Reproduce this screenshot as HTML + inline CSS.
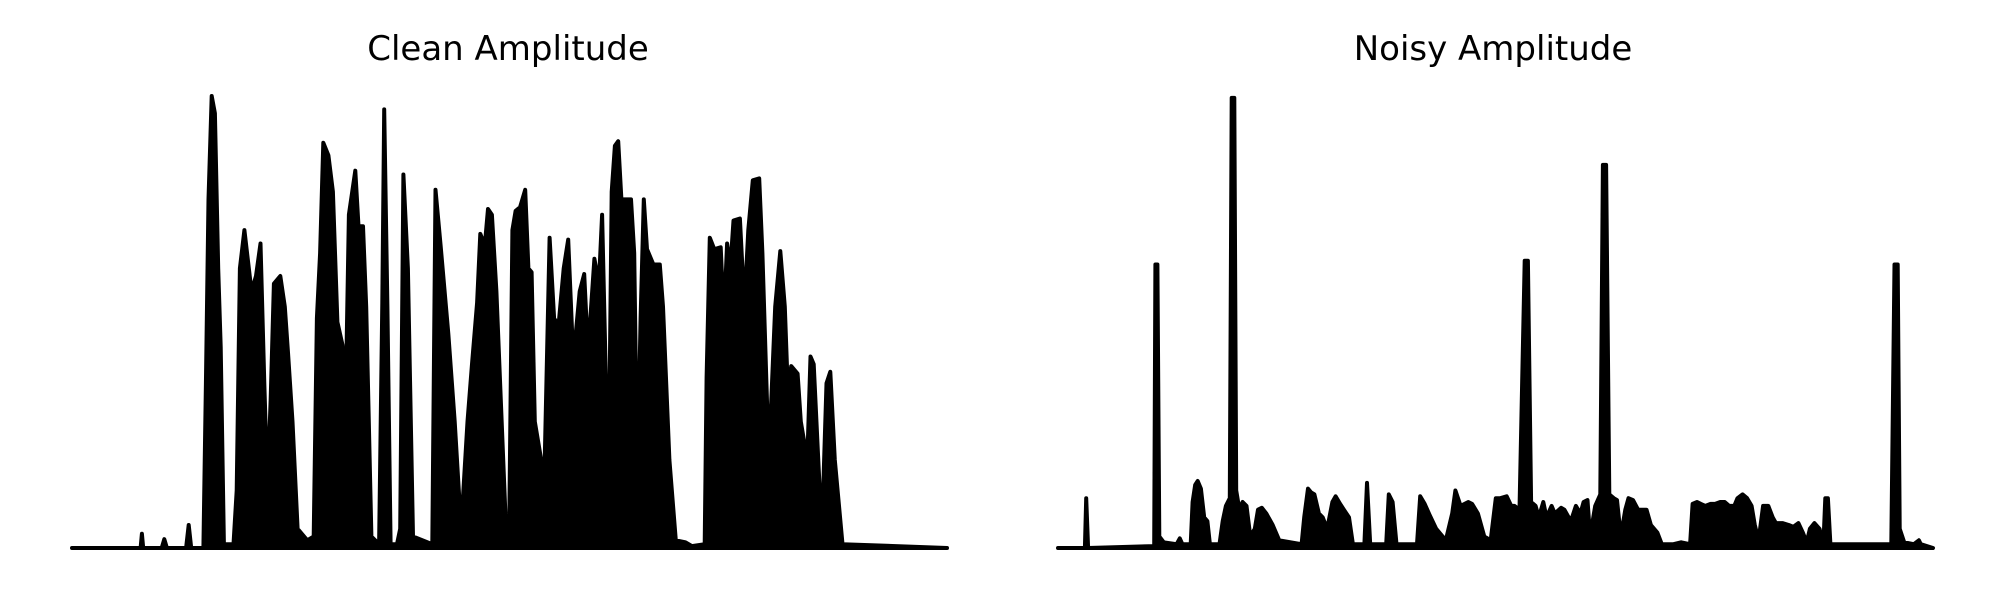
<!DOCTYPE html>
<html><head><meta charset="utf-8"><style>
html,body{margin:0;padding:0;background:#fff;}
svg{display:block;}
text{font-family:"DejaVu Sans","Liberation Sans",sans-serif;}
</style></head><body>
<svg id="chart" width="2000" height="600" viewBox="0 0 2000 600">
<text x="508" y="60" font-size="34" text-anchor="middle">Clean Amplitude</text>
<text x="1493" y="60" font-size="34" text-anchor="middle">Noisy Amplitude</text>
<g id="clean"></g>
<g id="noisy"></g>
</svg>
<script>
const cleanTime=[0,102,107,109,111,140,144,148,178,182,186,205,209,213,218,223,228,232,237,252,257,262,269,280,287,294,300,305,310,315,325,332,337,344,352,367,377,382,387,392,400,407,414,422,427,432,442,447,454,459,467,479,484,487,492,497,507,512,517,524,532,562,567,575,587,597,607,617,624,632,637,644,649,655,662,677,682,687,692,699,707,712,717,722,732,737,745,752,759,767,774,782,792,799,805,815,822,827,837,842,847,852,857,864,872,877,882,887,892,897,907,917,922,932,942,957,967,987,990,995,1002,1012,1017,1022,1027,1032,1042,1049,1055,1062,1072,1077,1087,1097,1105,1112,1117,1122,1132,1137,1147,1152,1157,1167,1172,1177,1183,1190,1202,1365];
const cleanAmp=[0,0,0,37,0,0,23,0,0,60,0,0,445,910,1180,1135,730,525,10,10,150,730,830,670,710,795,430,160,390,690,710,630,510,330,50,20,30,600,770,1058,1025,930,590,530,390,870,985,840,840,630,30,10,640,1145,630,10,10,50,975,730,30,10,935,790,560,330,50,330,480,640,820,790,885,870,670,50,50,830,880,890,935,730,720,330,230,190,810,600,580,730,805,490,670,715,510,755,690,870,140,930,1050,1062,910,910,910,770,180,600,910,780,740,740,630,230,20,15,5,10,445,810,780,785,600,795,730,855,860,630,830,960,965,770,230,630,775,630,400,475,455,330,230,500,480,130,160,430,460,230,10,0];
const noisyTime=[0,42,44,47,150,152,155,158,165,185,190,194,207,210,214,218,223,228,233,237,252,257,262,268,271,275,278,283,288,294,300,307,312,318,325,335,345,380,384,390,395,400,407,413,420,428,433,440,446,454,460,478,482,487,512,516,522,528,560,565,572,580,590,605,615,620,628,640,646,655,665,675,683,690,700,707,712,720,728,733,738,745,750,757,762,770,775,785,790,800,808,815,820,826,830,838,846,850,855,860,867,872,878,885,890,897,905,912,918,925,935,942,960,972,986,990,997,1003,1010,1018,1025,1033,1040,1047,1055,1060,1068,1075,1082,1087,1093,1100,1108,1115,1120,1130,1140,1147,1155,1162,1168,1173,1180,1188,1194,1197,1201,1205,1240,1300,1305,1310,1313,1320,1335,1343,1346,1365];
const noisyAmp=[0,0,130,0,5,740,740,30,15,10,25,10,10,120,165,175,155,80,70,10,10,70,110,130,1175,1175,150,100,120,110,30,50,100,105,90,60,20,10,80,155,145,140,90,80,50,120,135,115,100,80,10,10,170,10,10,140,120,10,10,135,115,85,50,20,90,150,110,120,115,90,30,20,130,130,135,110,110,100,750,750,120,110,80,120,80,110,90,105,100,70,110,90,120,125,30,110,140,1000,1000,140,130,125,30,100,130,125,100,100,100,60,40,10,10,15,10,115,120,115,110,115,115,120,120,110,110,130,140,130,110,60,20,110,110,80,65,65,60,55,65,40,15,50,65,50,10,130,130,10,10,10,740,740,50,15,10,20,10,0];
const T_MAX=1365, A_MAX=1180, Y0=548, Y1=96;
function draw(gid,x0,x1,times,amps,name){
  const g=document.getElementById(gid);
  const sx=t=>x0+t*(x1-x0)/T_MAX;
  const sy=a=>Y0-a*(Y0-Y1)/A_MAX;
  let d='M'+sx(times[0]).toFixed(1)+','+sy(0).toFixed(1);
  for(let i=0;i<times.length;i++) d+=' L'+sx(times[i]).toFixed(1)+','+sy(amps[i]).toFixed(1);
  d+=' L'+sx(times[times.length-1]).toFixed(1)+','+sy(0).toFixed(1)+' Z';
  const p=document.createElementNS('http://www.w3.org/2000/svg','path');
  p.setAttribute('d',d);
  p.setAttribute('fill','#000');
  p.setAttribute('stroke','#000');
  p.setAttribute('stroke-width','4');
  p.setAttribute('stroke-linejoin','round');
  p.setAttribute('stroke-linecap','round');
  
  
  g.appendChild(p);
}
draw('clean',72,947,cleanTime,cleanAmp,'clean-amplitude-trace');
draw('noisy',1058,1933,noisyTime,noisyAmp,'noisy-amplitude-trace');
</script>
</body></html>
